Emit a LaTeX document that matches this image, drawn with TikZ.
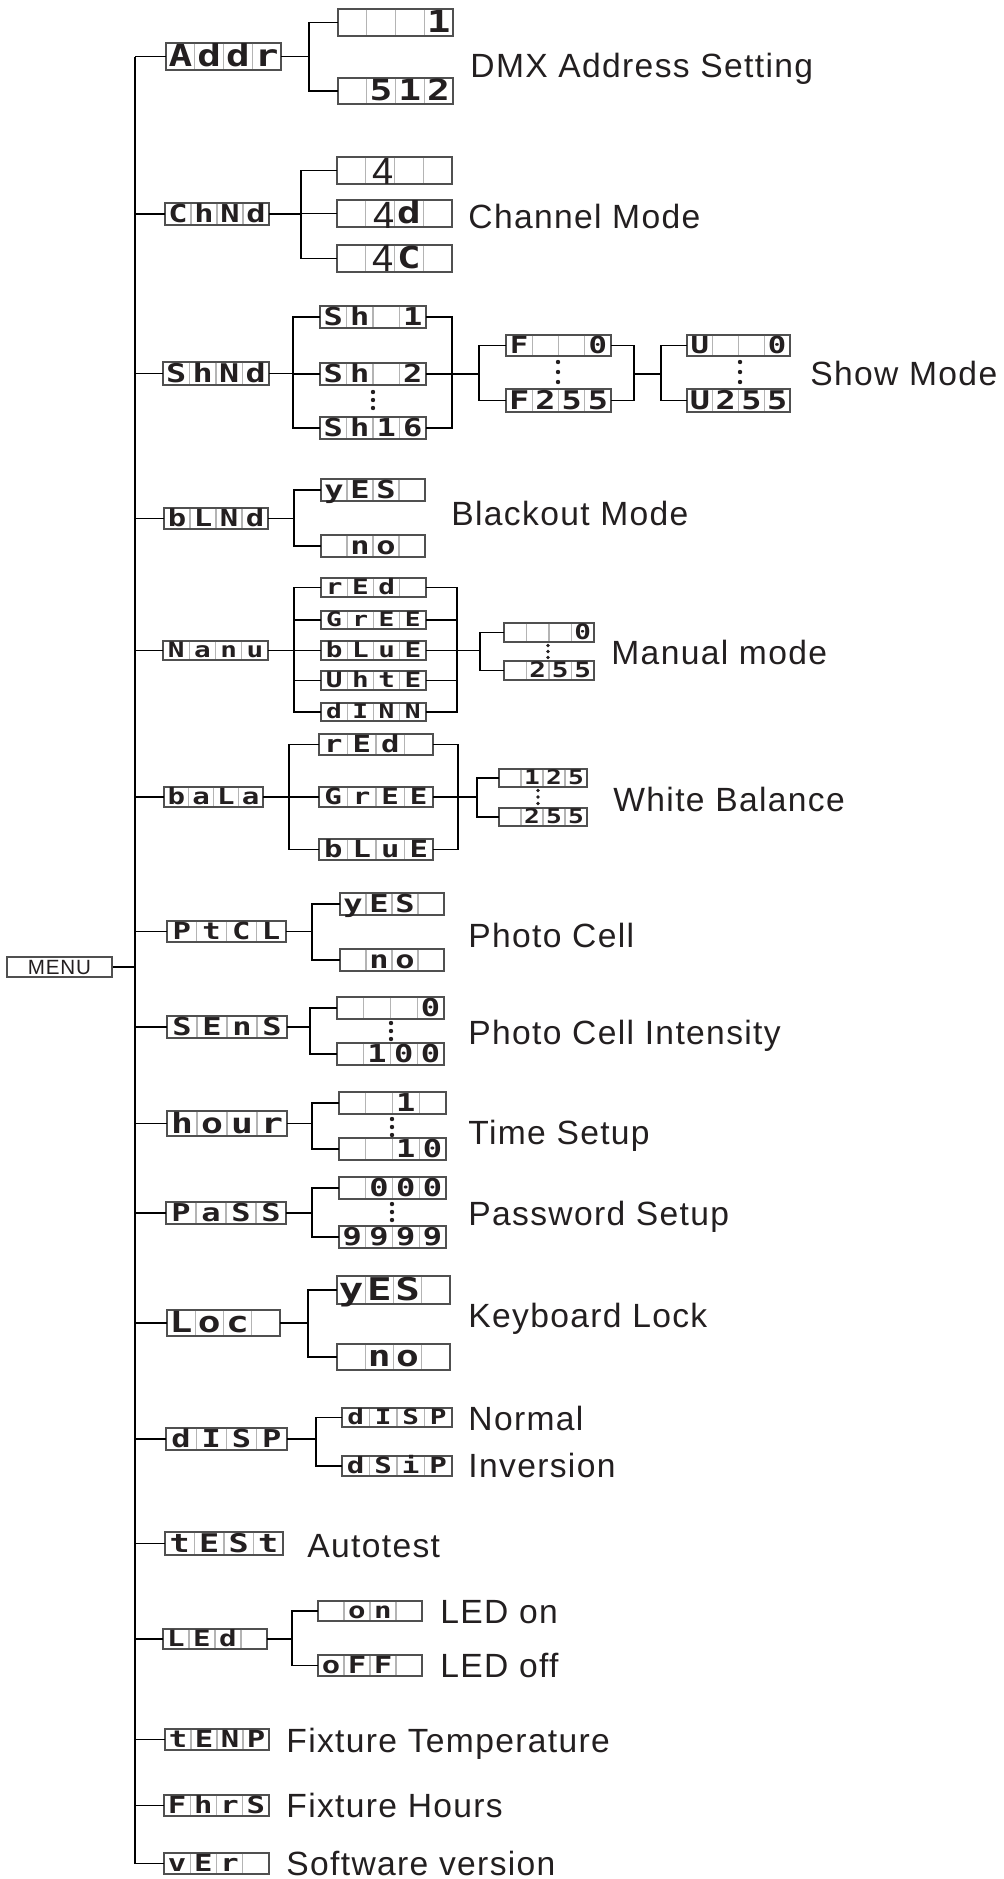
\documentclass[tikz,border=0pt]{standalone}
\usepackage{fontspec}
\usepackage{graphicx}
\newfontfamily\labfont[LetterSpace=4]{Liberation Sans}
\newfontfamily\fourfont{Liberation Sans}
\newfontfamily\segfont{DejaVu Sans Mono}
\definecolor{ink}{HTML}{231F20}
\definecolor{boxgray}{HTML}{505050}
\definecolor{cellsep}{HTML}{B4B4B4}
\tikzset{
  wire/.style={line width=0.85pt, draw=black},
  lcdbox/.style={draw=boxgray, line width=0.6pt, inner sep=0pt, outer sep=0pt, rectangle},
  lcdsep/.style={draw=cellsep, line width=0.6pt},
  segchar/.style={inner sep=0pt, text=ink, anchor=base},
  fourchar/.style={inner sep=0pt, text=ink, anchor=base, font=\fourfont\fontsize{19pt}{19pt}\selectfont},
  desc/.style={anchor=west, inner sep=0pt, text=ink, font=\labfont\fontsize{16.8pt}{18pt}\selectfont, text height=12pt, text depth=0pt},
  menubox/.style={draw=boxgray, line width=0.6pt, inner sep=0pt, text=ink, font=\labfont\fontsize{10.3pt}{11pt}\selectfont, text height=7.2pt, text depth=0pt},
  sdot/.style={fill=ink}
}
\newcommand\lcdchar[3]{%
  \if\relax\detokenize{#3}\relax\else
  \node[segchar, font=\segfont\bfseries\fontsize{\lcdfs pt}{\lcdfs pt}\selectfont] (#1-#2) at ({\lcdl+(#2-0.5)*\lcdw},\lcdbase) {\scalebox{1.3}[1]{#3}};%
  \fi}
\newcommand\lcd[9]{%
  \pgfmathsetmacro\lcdl{#2}%
  \pgfmathsetmacro\lcdt{#3}%
  \pgfmathsetmacro\lcdr{#4}%
  \pgfmathsetmacro\lcdb{#5}%
  \pgfmathsetmacro\lcdw{(\lcdr-\lcdl)/4}%
  \pgfmathsetmacro\lcdh{\lcdb-\lcdt}%
  \pgfmathsetmacro\lcdfs{0.56*\lcdh}%
  \pgfmathsetmacro\lcdbase{\lcdb-0.12*\lcdh}%
  \node[lcdbox, minimum width={(\lcdr-\lcdl)*0.5pt}, minimum height={\lcdh*0.5pt}] (#1) at ({(\lcdl+\lcdr)/2},{(\lcdt+\lcdb)/2}) {};%
  \foreach \k in {1,2,3} {\draw[lcdsep] ({\lcdl+\k*\lcdw},{\lcdt+0.7}) -- ({\lcdl+\k*\lcdw},{\lcdb-0.7});}%
  \lcdchar{#1}{1}{#6}\lcdchar{#1}{2}{#7}\lcdchar{#1}{3}{#8}\lcdchar{#1}{4}{#9}%
}
\newcommand\fork[4]{%
  \coordinate (#1-x) at (#2,0);
  \coordinate (#1-j) at (#1.east -| #1-x);
  \draw[wire] (#1.east) -- (#1-j);
  \draw[wire] (#3.west) -| (#1-j) |- (#4.west);
}
\begin{document}
\begin{tikzpicture}[x=0.5pt,y=-0.5pt]
\useasboundingbox (0,0) rectangle (1004,1879);
% level 1
\node[menubox, minimum width=52.5pt, minimum height=10pt] (menu) at (59.5,967) {MENU};
\lcd{addr}{166}{43}{281}{70}{A}{d}{d}{r}
\lcd{chnd}{165}{203}{269}{225}{C}{h}{N}{d}
\lcd{shnd}{163}{362}{269}{385}{S}{h}{N}{d}
\lcd{blnd}{164}{508}{268}{529}{b}{L}{N}{d}
\lcd{nanu}{163}{641}{268}{660}{N}{a}{n}{u}
\lcd{bala}{164}{787}{263}{807}{b}{a}{L}{a}
\lcd{ptcl}{167}{921}{286}{942}{P}{t}{C}{L}
\lcd{sens}{167}{1016}{287}{1038}{S}{E}{n}{S}
\lcd{hour}{167}{1111}{287}{1136}{h}{o}{u}{r}
\lcd{pass}{166}{1202}{286}{1224}{P}{a}{S}{S}
\lcd{loc}{167}{1310}{280}{1336}{L}{o}{c}{}
\lcd{disp}{166}{1428}{287}{1450}{d}{I}{S}{P}
\lcd{test}{165}{1532}{283}{1555}{t}{E}{S}{t}
\lcd{led}{163}{1629}{267}{1649}{L}{E}{d}{}
\lcd{tenp}{165}{1729}{269}{1750}{t}{E}{N}{P}
\lcd{fhrs}{164}{1795}{269}{1816}{F}{h}{r}{S}
\lcd{ver}{164}{1853}{269}{1874}{v}{E}{r}{}
% level 2+
\lcd{a1}{338}{9}{453}{36}{}{}{}{1}
\lcd{a512}{338}{78}{453}{104}{}{5}{1}{2}
\lcd{c4}{337}{157}{452}{184}{}{}{}{}
\lcd{c4d}{337}{200}{452}{227}{}{}{d}{}
\lcd{c4c}{337}{245}{452}{272}{}{}{C}{}
\node[fourchar] (c4-n) at (383,184) {4};
\node[fourchar] (c4d-n) at (384,228) {4};
\node[fourchar] (c4c-n) at (383,271) {4};
\lcd{sh1}{320}{306}{426}{328}{S}{h}{}{1}
\lcd{sh2}{320}{363}{426}{385}{S}{h}{}{2}
\lcd{sh16}{320}{417}{426}{439}{S}{h}{1}{6}
\lcd{f0}{506}{335}{611}{356}{F}{}{}{0}
\lcd{f255}{506}{389}{611}{412}{F}{2}{5}{5}
\lcd{u0}{687}{335}{790}{356}{U}{}{}{0}
\lcd{u255}{687}{389}{790}{412}{U}{2}{5}{5}
\lcd{byes}{321}{479}{425}{501}{y}{E}{S}{}
\lcd{bno}{321}{535}{425}{557}{}{n}{o}{}
\lcd{mred}{321}{578}{426}{597}{r}{E}{d}{}
\lcd{mgree}{321}{611}{426}{629}{G}{r}{E}{E}
\lcd{mblue}{321}{641}{426}{660}{b}{L}{u}{E}
\lcd{mwhte}{321}{671}{426}{690}{U}{h}{t}{E}
\lcd{mdimm}{321}{703}{426}{721}{d}{I}{N}{N}
\lcd{m0}{504}{623}{594}{642}{}{}{}{0}
\lcd{m255}{504}{661}{594}{680}{}{2}{5}{5}
\lcd{wred}{319}{734}{433}{755}{r}{E}{d}{}
\lcd{wgree}{319}{787}{433}{807}{G}{r}{E}{E}
\lcd{wblue}{319}{839}{433}{860}{b}{L}{u}{E}
\lcd{w125}{499}{769}{587}{787}{}{1}{2}{5}
\lcd{w255}{499}{808}{587}{826}{}{2}{5}{5}
\lcd{pyes}{340}{893}{444}{915}{y}{E}{S}{}
\lcd{pno}{340}{949}{444}{971}{}{n}{o}{}
\lcd{s0}{337}{997}{444}{1019}{}{}{}{0}
\lcd{s100}{337}{1043}{444}{1065}{}{1}{0}{0}
\lcd{h1}{339}{1092}{446}{1114}{}{}{1}{}
\lcd{h10}{339}{1138}{446}{1160}{}{}{1}{0}
\lcd{p000}{339}{1177}{446}{1199}{}{0}{0}{0}
\lcd{p9999}{339}{1226}{446}{1248}{9}{9}{9}{9}
\lcd{lyes}{337}{1276}{450}{1304}{y}{E}{S}{}
\lcd{lno}{337}{1344}{450}{1370}{}{n}{o}{}
\lcd{dnorm}{342}{1408}{452}{1427}{d}{I}{S}{P}
\lcd{dinv}{342}{1456}{452}{1476}{d}{S}{i}{P}
\lcd{lon}{318}{1601}{422}{1621}{}{o}{n}{}
\lcd{loff}{318}{1655}{422}{1676}{o}{F}{F}{}
% trunk
\coordinate (trunk) at (135,0);
\draw[wire] (addr.west -| trunk) -- (ver.west -| trunk) -- (ver.west);
\foreach \n in {addr,chnd,shnd,blnd,nanu,bala,ptcl,sens,hour,pass,loc,disp,test,led,tenp,fhrs}
  \draw[wire] (\n.west -| trunk) -- (\n.west);
\draw[wire] (menu.east) -- (menu.east -| trunk);
% simple forks
\fork{addr}{309}{a1}{a512}
\fork{chnd}{301}{c4}{c4c}
\draw[wire] (c4d.west) -- (c4d.west -| chnd-x);
\fork{blnd}{294}{byes}{bno}
\fork{ptcl}{312}{pyes}{pno}
\fork{sens}{310}{s0}{s100}
\fork{hour}{312}{h1}{h10}
\fork{pass}{312}{p000}{p9999}
\fork{loc}{308}{lyes}{lno}
\fork{disp}{316}{dnorm}{dinv}
\fork{led}{292}{lon}{loff}
% show mode
\fork{shnd}{293}{sh1}{sh16}
\draw[wire] (sh2.west) -- (sh2.west -| shnd-x);
\coordinate (shR-x) at (452,0);
\coordinate (fJ-x) at (479,0);
\coordinate (fR-x) at (634,0);
\coordinate (uJ-x) at (661,0);
\draw[wire] (sh1.east) -| (sh2.east -| shR-x) |- (sh16.east);
\draw[wire] (sh2.east) -- (sh2.east -| fJ-x);
\draw[wire] (f0.west) -| (sh2.east -| fJ-x) |- (f255.west);
\draw[wire] (f0.east) -| (sh2.east -| fR-x) |- (f255.east);
\draw[wire] (sh2.east -| fR-x) -- (sh2.east -| uJ-x);
\draw[wire] (u0.west) -| (sh2.east -| uJ-x) |- (u255.west);
% manual
\fork{nanu}{294}{mred}{mdimm}
\foreach \n in {mgree,mblue,mwhte} \draw[wire] (\n.west) -- (\n.west -| nanu-x);
\coordinate (nR-x) at (457,0);
\coordinate (n2-x) at (480,0);
\draw[wire] (mred.east) -| (mblue.east -| nR-x) |- (mdimm.east);
\foreach \n in {mgree,mwhte} \draw[wire] (\n.east) -- (\n.east -| nR-x);
\draw[wire] (mblue.east) -- (mblue.east -| n2-x);
\draw[wire] (m0.west) -| (mblue.east -| n2-x) |- (m255.west);
% white balance
\fork{bala}{289}{wred}{wblue}
\draw[wire] (wgree.west) -- (wgree.west -| bala-x);
\coordinate (bR-x) at (458,0);
\coordinate (b2-x) at (477,0);
\draw[wire] (wred.east) -| (wgree.east -| bR-x) |- (wblue.east);
\draw[wire] (wgree.east) -- (wgree.east -| b2-x);
\draw[wire] (w125.west) -| (wgree.east -| b2-x) |- (w255.west);
% dots
\foreach \y in {392,400,408} \fill[sdot] (373,\y) circle (2.2);
\foreach \y in {362,372,382} \fill[sdot] (558,\y) circle (2.2);
\foreach \y in {362,372,382} \fill[sdot] (740,\y) circle (2.2);
\foreach \y in {645.5,651.5,657.5} \fill[sdot] (548,\y) circle (1.9);
\foreach \y in {790.5,797,803.5} \fill[sdot] (538,\y) circle (1.9);
\foreach \y in {1023,1031,1039} \fill[sdot] (391,\y) circle (2.2);
\foreach \y in {1119,1127,1135} \fill[sdot] (392,\y) circle (2.2);
\foreach \y in {1204,1212,1220} \fill[sdot] (392,\y) circle (2.2);
% labels
\node[desc] (t-dmx) at (470,65) {DMX Address Setting};
\node[desc] (t-ch) at (468,216) {Channel Mode};
\node[desc] (t-show) at (810,373) {Show Mode};
\node[desc] (t-black) at (451,513) {Blackout Mode};
\node[desc] (t-man) at (611,652) {Manual mode};
\node[desc] (t-wb) at (613,799) {White Balance};
\node[desc] (t-pc) at (468,935) {Photo Cell};
\node[desc] (t-pci) at (468,1032) {Photo Cell Intensity};
\node[desc] (t-time) at (468,1132) {Time Setup};
\node[desc] (t-pw) at (468,1213) {Password Setup};
\node[desc] (t-kb) at (468,1315) {Keyboard Lock};
\node[desc] (t-norm) at (468,1418) {Normal};
\node[desc] (t-inv) at (468,1465) {Inversion};
\node[desc] (t-auto) at (307,1545) {Autotest};
\node[desc] (t-lon) at (440,1611) {LED on};
\node[desc] (t-loff) at (440,1665) {LED off};
\node[desc] (t-temp) at (286,1740) {Fixture Temperature};
\node[desc] (t-hrs) at (286,1805) {Fixture Hours};
\node[desc] (t-sw) at (286,1863) {Software version};
\end{tikzpicture}
\end{document}
